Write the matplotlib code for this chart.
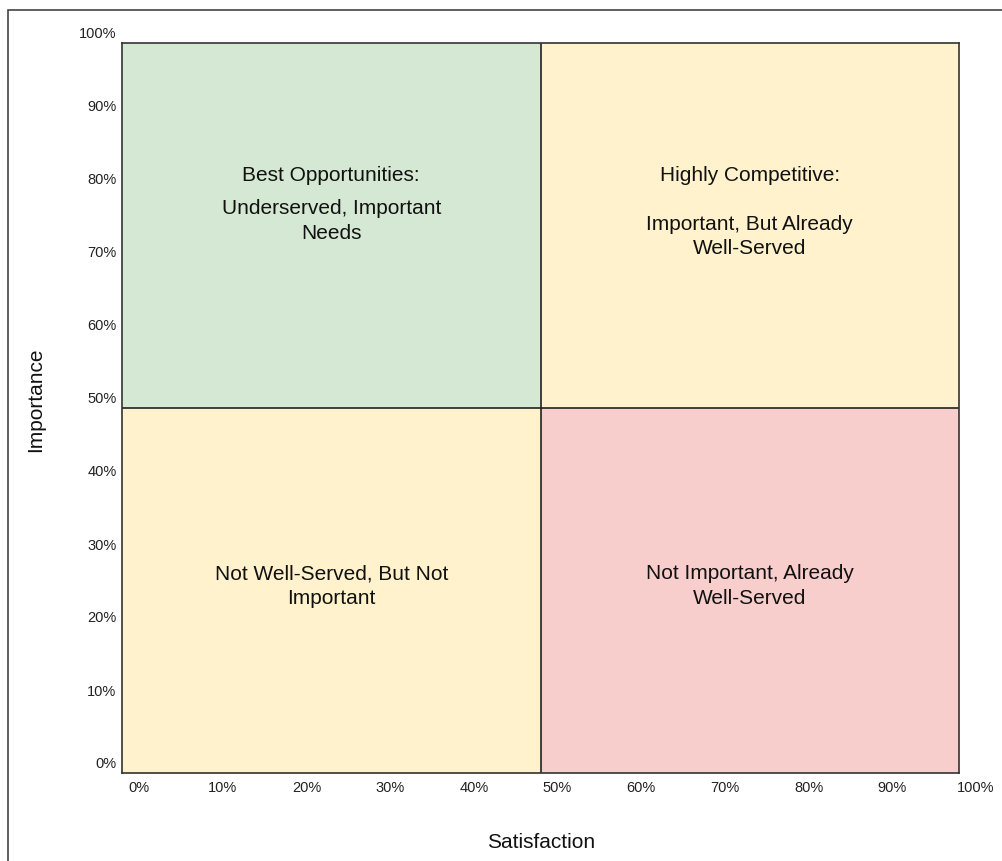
import matplotlib
matplotlib.use("Agg")
import matplotlib.pyplot as plt
from matplotlib.patches import Rectangle
from matplotlib.transforms import ScaledTranslation

plt.rcParams['font.family'] = ['Liberation Sans', 'DejaVu Sans']

# quadrants: lower-left corner, size, colour
quad_x = [0, 50, 0, 50]
quad_y = [50, 50, 0, 0]
quad_w = [50, 50, 50, 50]
quad_h = [50, 50, 50, 50]
quad_colors = ['#d5e8d4', '#fff2cc', '#fff2cc', '#f8cecc']

# quadrant texts: (x, y, text)
quad_titles = [(25, 81.9, 'Best Opportunities:'),
               (75, 81.9, 'Highly Competitive:')]
quad_bodies = [(25, 75.6, 'Underserved, Important\nNeeds'),
               (75, 73.5, 'Important, But Already\nWell-Served'),
               (25, 25.6, 'Not Well-Served, But Not\nImportant'),
               (75, 25.6, 'Not Important, Already\nWell-Served')]

ticks = list(range(0, 101, 10))
tick_labels = [f'{t}%' for t in ticks]

W, H = 1002, 861
fig = plt.figure(figsize=(W / 100, H / 100), dpi=100)
fig.patch.set_facecolor('white')

# outer frame
fig.patches.append(Rectangle((8 / W, -0.05), 1.1, 1 - 10 / H + 0.05,
                             transform=fig.transFigure, fill=False,
                             edgecolor='#444444', lw=1.2))

ax = fig.add_axes([122 / W, 88 / H, 837 / W, 730 / H])
ax.set_xlim(0, 100)
ax.set_ylim(0, 100)

for x, y, w, h, c in zip(quad_x, quad_y, quad_w, quad_h, quad_colors):
    ax.add_patch(Rectangle((x, y), w, h, facecolor=c, edgecolor='none', zorder=0))

ax.axvline(50, color='#222222', lw=1.2, zorder=2)
ax.axhline(50, color='#222222', lw=1.2, zorder=2)

for x, y, t in quad_titles + quad_bodies:
    ax.text(x, y, t, ha='center', va='center', fontsize=15,
            linespacing=1.35, color='#111111')

for s in ax.spines.values():
    s.set_color('#333333')
    s.set_linewidth(1.2)

ax.set_xticks(ticks)
ax.set_xticklabels(tick_labels)
ax.set_yticks(ticks)
ax.set_yticklabels(tick_labels)
ax.tick_params(length=0, labelsize=10.5, colors='#222222')
ax.tick_params(axis='x', pad=6)
ax.tick_params(axis='y', pad=4)

dx = ScaledTranslation(17 / 100, 0, fig.dpi_scale_trans)
dy = ScaledTranslation(0, 10 / 100, fig.dpi_scale_trans)
for lab in ax.get_xticklabels():
    lab.set_transform(lab.get_transform() + dx)
for lab in ax.get_yticklabels():
    lab.set_transform(lab.get_transform() + dy)

fig.text(36 / W, 1 - 400 / H, 'Importance', rotation=90, ha='center',
         va='center', fontsize=15, color='#111111')
fig.text(541 / W, 1 - 842 / H, 'Satisfaction', ha='center', va='center',
         fontsize=15, color='#111111')

fig.savefig('out.png', dpi=100)
